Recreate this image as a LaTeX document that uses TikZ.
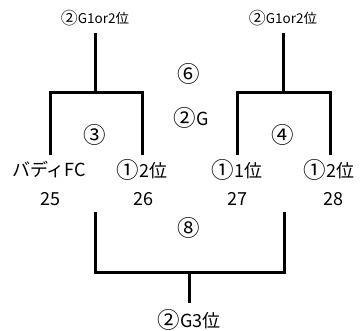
\documentclass[tikz,border=0pt]{standalone}
\usepackage{fontspec}
\newfontfamily\jpfont{Noto Sans CJK JP}
% circled numbers of Noto are small
\newcommand\maru[1]{\raisebox{-0.06em}{\scalebox{1.25}{#1}}}
\begin{document}
\begin{tikzpicture}[x=1pt,y=-1pt,
		small/.style={font=\jpfont\fontsize{13.5}{13.5}\selectfont, inner sep=0pt},
		big/.style={font=\jpfont\fontsize{18}{18}\selectfont, inner sep=0pt},
		bracket/.style={line width=3pt}]
	\useasboundingbox (0,0) rectangle (361,331);
	% upper brackets
	\node[small] (winA) at (95,18) {\maru{②}G1or2位};
	\node[small] (winB) at (283,18) {\maru{②}G1or2位};
	\coordinate (topA) at (95,33);
	\coordinate (forkA) at (95,93);
	\coordinate (leafA) at (50,155);
	\coordinate (leafB) at (142,155);
	\coordinate (topB) at (283,33);
	\coordinate (forkB) at (283,93);
	\coordinate (leafC) at (237,155);
	\coordinate (leafD) at (330,155);
	\draw[bracket] (topA) -- (forkA);
	\draw[bracket] (leafA) |- (forkA) -| (leafB);
	\draw[bracket] (topB) -- (forkB);
	\draw[bracket] (leafC) |- (forkB) -| (leafD);
	\node[big] (game3) at (95,135) {\maru{③}};
	\node[big] (game4) at (283,135) {\maru{④}};
	\node[big] (game6) at (189,74) {\maru{⑥}};
	\node[big] (group2) at (191,118) {\maru{②}G};
	% teams
	\node[big] (teamA) at (49,170) {バディFC};
	\node[big] (teamB) at (142,170) {\maru{①}2位};
	\node[big] (teamC) at (237,170) {\maru{①}1位};
	\node[big] (teamD) at (329,170) {\maru{①}2位};
	\node[big] (numA) at (50,199) {25};
	\node[big] (numB) at (143,199) {26};
	\node[big] (numC) at (237,199) {27};
	\node[big] (numD) at (333,199) {28};
	% lower bracket
	\coordinate (lowA) at (95,212);
	\coordinate (lowB) at (284,212);
	\coordinate (forkC) at (189,272);
	\draw[bracket] (lowA) |- (forkC) -| (lowB);
	\node[big] (game8) at (189,228) {\maru{⑧}};
	\node[big] (third) at (189,320) {\maru{②}G3位};
	\draw[bracket] (forkC) -- (third.north |- 0,303);
\end{tikzpicture}
\end{document}
